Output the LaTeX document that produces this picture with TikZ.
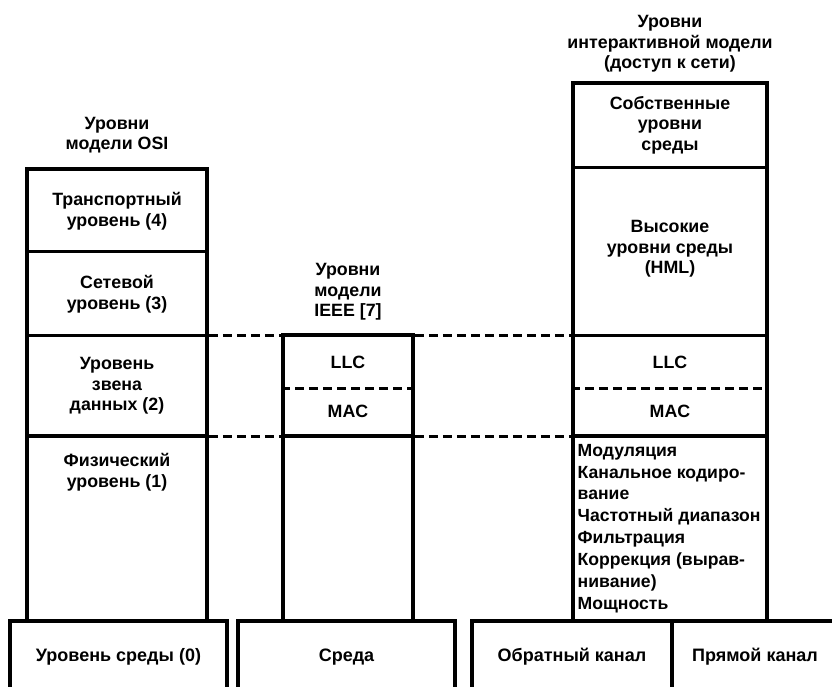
\documentclass[tikz,border=0pt]{standalone}
\usepackage{fontspec}
\setmainfont{Liberation Sans}
\begin{document}
\begin{tikzpicture}[x=1pt,y=-1pt,
  outer/.style={draw, line width=3.5pt, inner sep=0pt, font=\fontsize{18}{20}\selectfont\bfseries},
  div/.style={line width=3pt},
  dsh/.style={line width=3pt, dash pattern=on 9pt off 5pt},
  txt/.style={font=\fontsize{17.8}{20.5}\selectfont\bfseries, align=center, inner sep=0pt},
  lst/.style={font=\fontsize{17.6}{21.9}\selectfont\bfseries, align=left, inner sep=0pt, anchor=west}
]
\useasboundingbox (0,0) rectangle (832,687);
\clip (0,0) rectangle (832,687);

% columns
\node[outer, minimum width=180pt, minimum height=452pt] (osi) at (117,395) {};
\node[outer, minimum width=130pt, minimum height=286pt] (ieee) at (348,478) {};
\node[outer, minimum width=194pt, minimum height=538pt] (iam) at (670,352) {};

% bottom boxes
\node[outer, minimum width=217pt, minimum height=72pt] (b1) at (118.5,657) {Уровень среды (0)};
\node[outer, minimum width=217pt, minimum height=72pt] (b2) at (346.5,657) {Среда};
\node[outer, minimum width=200pt, minimum height=72pt] (b3) at (572,657) {Обратный канал};
\node[outer, minimum width=166pt, minimum height=72pt] (b4) at (755,657) {Прямой канал};

% level coordinates
\coordinate (lR) at (0,168);
\coordinate (lA) at (0,251);
\coordinate (lN) at (0,335);
\coordinate (lD) at (0,388);
\coordinate (lP) at (0,436);

% OSI dividers
\draw[div] (osi.west |- lA) -- (osi.east |- lA);
\draw[div] (osi.west |- lN) -- (osi.east |- lN);
\draw[line width=4pt] (osi.west |- lP) -- (osi.east |- lP);

% IEEE dividers
\draw[dsh] (ieee.west |- lD) -- (ieee.east |- lD);
\draw[line width=4pt] (ieee.west |- lP) -- (ieee.east |- lP);

% interactive model dividers
\draw[div] (iam.west |- lR) -- (iam.east |- lR);
\draw[div] (iam.west |- lN) -- (iam.east |- lN);
\draw[dsh] (iam.west |- lD) -- (iam.east |- lD);
\draw[line width=4pt] (iam.west |- lP) -- (iam.east |- lP);

% dashed connectors
\draw[dsh] (osi.east |- lN) -- (ieee.west |- lN);
\draw[dsh] (ieee.east |- lN) -- (iam.west |- lN);
\draw[dsh] (osi.east |- lP) -- (ieee.west |- lP);
\draw[dsh] (ieee.east |- lP) -- (iam.west |- lP);

% texts
\node[txt] (hOSI) at (117,135) {Уровни\\модели OSI};
\node[txt] (t4) at (117,211) {Транспортный\\уровень (4)};
\node[txt] (t3) at (117,294) {Сетевой\\уровень (3)};
\node[txt] (t2) at (117,386) {Уровень\\звена\\данных (2)};
\node[txt] (t1) at (117,472) {Физический\\уровень (1)};

\node[txt] (hIEEE) at (348,292) {Уровни\\модели\\IEEE [7]};
\node[txt] (llc1) at (348,362) {LLC};
\node[txt] (mac1) at (348,411) {MAC};

\node[txt] (hIAM) at (670,44) {Уровни\\интерактивной модели\\(доступ к сети)};
\node[txt] (own) at (670,125) {Собственные\\уровни\\среды};
\node[txt] (hml) at (670,249) {Высокие\\уровни среды\\(HML)};
\node[txt] (llc2) at (670,362) {LLC};
\node[txt] (mac2) at (670,411) {MAC};
\node[lst] (phy) at (577.5,528.5) {Модуляция\\Канальное кодиро-\\вание\\Частотный диапазон\\Фильтрация\\Коррекция (вырав-\\нивание)\\Мощность};
\end{tikzpicture}
\end{document}
